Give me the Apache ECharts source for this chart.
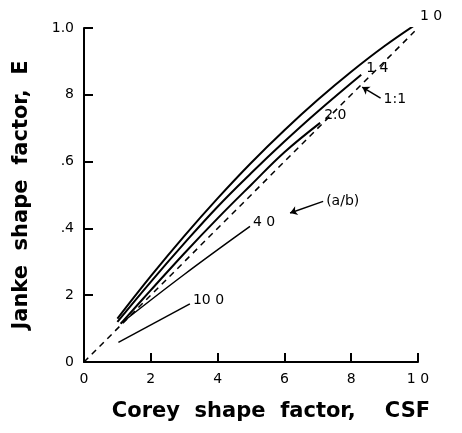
<!DOCTYPE html>
<html>
<head>
<meta charset="utf-8">
<script src="https://cdn.jsdelivr.net/npm/echarts@6/dist/echarts.min.js"></script>
<style>html,body{margin:0;padding:0;background:#fff;}#c{width:462px;height:433px;}</style>
</head>
<body>
<div id="c"></div>
<script>
// Tick labels as printed in the figure
const xTickLabels = ['0', '2', '4', '6', '8', '1 0'];
const yTickLabels = ['0', '2', '.4', '.6', '8', '1.0'];

// Curves of Janke shape factor E vs Corey shape factor CSF for different a/b
const csf_r10  = [0.10, 0.20, 0.30, 0.40, 0.50, 0.60, 0.70, 0.80, 0.90, 1.00];
const e_r10    = [0.13, 0.257, 0.377, 0.49, 0.596, 0.694, 0.785, 0.869, 0.946, 1.015];
const csf_r14  = [0.10, 0.20, 0.30, 0.40, 0.50, 0.60, 0.70, 0.83];
const e_r14    = [0.12, 0.24, 0.355, 0.465, 0.565, 0.66, 0.75, 0.86];
const csf_r20  = [0.11, 0.20, 0.30, 0.40, 0.50, 0.60, 0.707];
const e_r20    = [0.115, 0.215, 0.325, 0.43, 0.53, 0.628, 0.716];
const csf_r40  = [0.11, 0.30, 0.497];
const e_r40    = [0.115, 0.262, 0.406];
const csf_r100 = [0.103, 0.317];
const e_r100   = [0.059, 0.174];
const oneToOne = [0, 0.99];
const curveLabels = ['1 0', '1 4', '2.0', '4 0', '10 0'];
const noteTexts = ['1:1', '(a/b)'];
const noteX = [0.894, 0.722];
const noteY = [0.787, 0.481];

function pairs(xs, ys) { return xs.map((x, i) => [x, ys[i]]); }

const font = 'DejaVu Sans';
const chart = echarts.init(document.getElementById('c'), null, {renderer: 'canvas'});

function curve(xs, ys, label, width, dist, off) {
  return {
    type: 'line', data: pairs(xs, ys), symbol: 'none', smooth: 0.4,
    lineStyle: {color: '#000', width: width}, silent: true,
    endLabel: {show: true, formatter: label, color: '#000', fontFamily: font, fontSize: 14,
      distance: dist, offset: off}
  };
}

chart.setOption({
  animation: false,
  backgroundColor: '#fff',
  grid: {left: 84, right: 44, top: 28, bottom: 71, containLabel: false},
  xAxis: {
    type: 'value', min: 0, max: 1, interval: 0.2,
    axisLine: {show: true, lineStyle: {color: '#000', width: 2}},
    axisTick: {show: true, inside: true, length: 9, lineStyle: {color: '#000', width: 2}},
    splitLine: {show: false},
    axisLabel: {color: '#000', fontFamily: font, fontSize: 14, margin: 10,
      formatter: v => xTickLabels[Math.round(v / 0.2)]},
    name: 'Corey  shape  factor,    CSF', nameLocation: 'middle', nameGap: 39,
    nameTextStyle: {color: '#000', fontFamily: font, fontSize: 21, fontWeight: 'bold', padding: [0, 0, 0, 40]}
  },
  yAxis: {
    type: 'value', min: 0, max: 1, interval: 0.2,
    axisLine: {show: true, lineStyle: {color: '#000', width: 2}},
    axisTick: {show: true, inside: true, length: 9, lineStyle: {color: '#000', width: 2}},
    splitLine: {show: false},
    axisLabel: {color: '#000', fontFamily: font, fontSize: 14, margin: 10,
      formatter: v => yTickLabels[Math.round(v / 0.2)]},
    name: 'Janke  shape  factor,  E', nameLocation: 'middle', nameGap: 52,
    nameTextStyle: {color: '#000', fontFamily: font, fontSize: 21, fontWeight: 'bold'}
  },
  series: [
    {
      type: 'line', data: pairs(oneToOne, oneToOne), symbol: 'none', silent: true,
      lineStyle: {color: '#000', width: 1.5, type: [6, 5]},
      markLine: {
        silent: true, symbol: ['none', 'arrow'], symbolSize: 7,
        lineStyle: {color: '#000', width: 1.5, type: 'solid'},
        label: {show: false},
        data: [
          [{coord: [0.888, 0.79], lineStyle: {curveness: -0.25}}, {coord: [0.833, 0.823]}],
          [{coord: [0.716, 0.481]}, {coord: [0.617, 0.446]}]
        ]
      }
    },
    curve(csf_r10, e_r10, curveLabels[0], 2, 2, [0, -7]),
    curve(csf_r14, e_r14, curveLabels[1], 2, 5, [0, -6]),
    curve(csf_r20, e_r20, curveLabels[2], 2, 4, [0, -7]),
    curve(csf_r40, e_r40, curveLabels[3], 1.5, 3, [0, -4]),
    curve(csf_r100, e_r100, curveLabels[4], 1.5, 3, [0, -4]),
    {
      type: 'scatter', symbol: 'circle', symbolSize: 2,
      itemStyle: {color: 'rgba(0,0,0,0)'}, silent: true,
      data: noteX.map((x, i) => ({value: [x, noteY[i]], name: noteTexts[i]})),
      label: {show: true, position: 'right', distance: 0, color: '#000', opacity: 1,
        fontFamily: font, fontSize: 14, textBorderWidth: 0, formatter: p => p.name}
    }
  ]
});
</script>
</body>
</html>
